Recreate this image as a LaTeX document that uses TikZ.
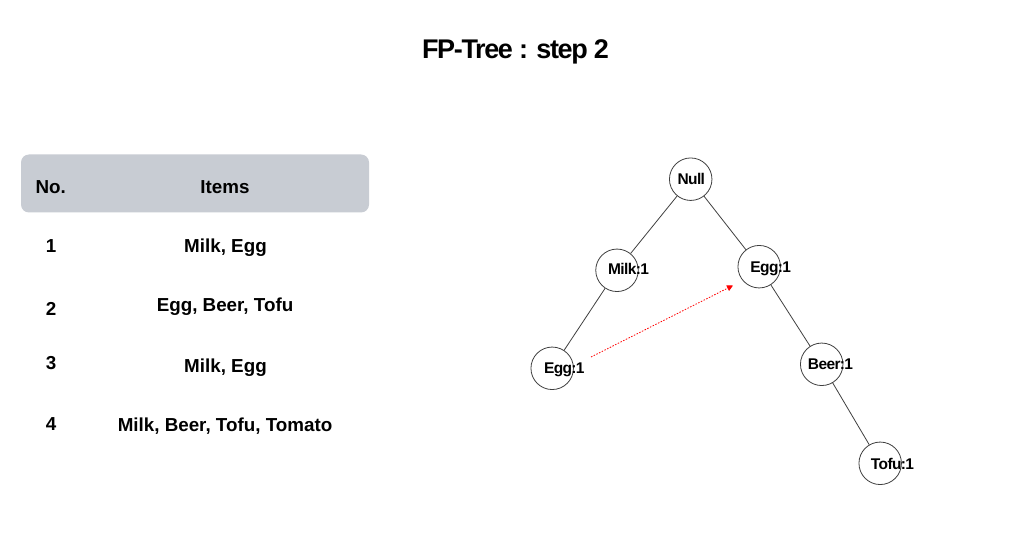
\documentclass[tikz,border=0pt]{standalone}
\usepackage{fontspec}
\setmainfont{Liberation Sans}
\usetikzlibrary{arrows.meta}
\definecolor{headgray}{HTML}{C8CCD3}
\definecolor{linegray}{HTML}{404040}
\begin{document}
\begin{tikzpicture}[x=1pt,y=-1pt,
  tnode/.style={circle,draw=linegray,line width=0.8pt,minimum size=42.5pt,inner sep=0pt},
  tlabel/.style={font=\fontsize{15.5}{18}\selectfont\bfseries\addfontfeature{LetterSpace=-4},inner sep=0pt,anchor=base},
  edge/.style={draw=linegray,line width=0.8pt},
  link/.style={draw=red,line width=0.8pt,dash pattern=on 1.5pt off 1.5pt,-{Triangle[length=6pt,width=6pt]}},
  cell/.style={font=\fontsize{18.8}{22}\selectfont\bfseries,inner sep=0pt,anchor=base},
  header/.style={fill=headgray,rounded corners=8pt,minimum width=348pt,minimum height=58pt,inner sep=0pt}]
\useasboundingbox (0,0) rectangle (1024,534);
\fill[white] (0,0) rectangle (1024,534);
% title
\node[inner sep=0pt,anchor=base,font=\fontsize{27}{32}\selectfont\bfseries\addfontfeature{LetterSpace=-5}] (title) at (515.5,58.3) {FP-Tree : step 2};
% table
\node[header] (hdr) at (195,183.5) {};
\node[cell] (hno) at (50.7,194) {No.};
\node[cell] (hitems) at (225,194) {Items};
\node[cell] (n1) at (51,253) {1};
\node[cell] (i1) at (225.5,253) {Milk, Egg};
\node[cell] (n2) at (51,315) {2};
\node[cell] (i2) at (225,312) {Egg, Beer, Tofu};
\node[cell] (n3) at (51,369) {3};
\node[cell] (i3) at (225.5,372) {Milk, Egg};
\node[cell] (n4) at (51,430) {4};
\node[cell] (i4) at (225,431) {Milk, Beer, Tofu, Tomato};
% tree circles
\node[tnode] (null) at (690.7,179.2) {};
\node[tnode] (milk) at (617,270.3) {};
\node[tnode] (eggR) at (759.2,266.7) {};
\node[tnode] (eggL) at (552.2,368.3) {};
\node[tnode] (beer) at (821.7,364.3) {};
\node[tnode] (tofu) at (880.2,463.3) {};
% tree labels
\node[tlabel] (lnull) at (691.3,185) {Null};
\node[tlabel] (lmilk) at (628.5,274.3) {Milk:1};
\node[tlabel] (leggR) at (770.7,272.3) {Egg:1};
\node[tlabel] (leggL) at (564.3,373.3) {Egg:1};
\node[tlabel] (lbeer) at (830.5,369.3) {Beer:1};
\node[tlabel] (ltofu) at (892.5,469) {Tofu:1};
% edges
\draw[edge] (null) -- (milk);
\draw[edge] (null) -- (eggR);
\draw[edge] (milk) -- (eggL);
\draw[edge] (eggR) -- (beer);
\draw[edge] (beer) -- (tofu);
% node link
\coordinate (ls) at (591,357);
\coordinate (le) at (733,285.5);
\draw[link] (ls) -- (le);
\end{tikzpicture}
\end{document}
